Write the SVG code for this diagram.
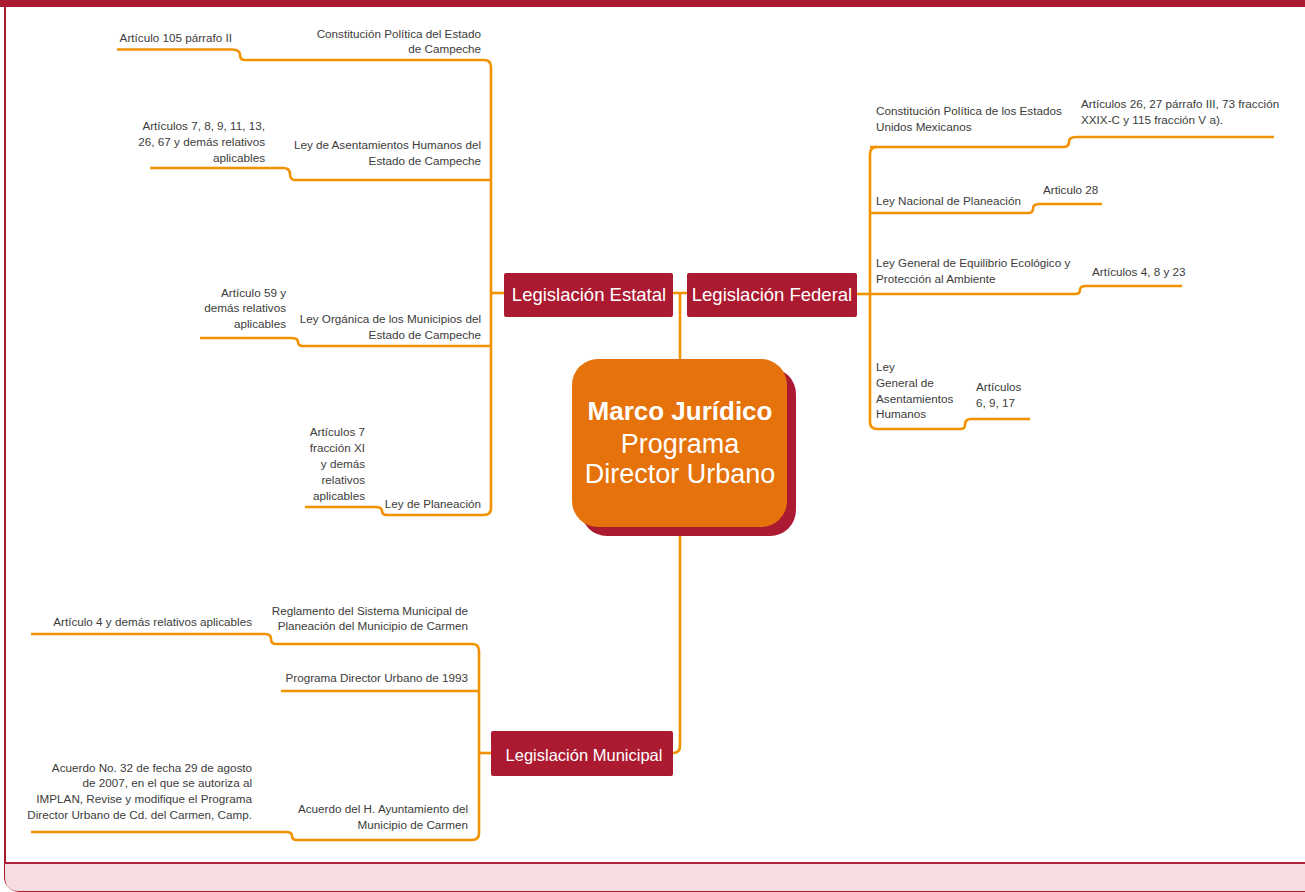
<svg xmlns="http://www.w3.org/2000/svg" width="1305" height="892" viewBox="0 0 1305 892">
<style>
.t{font-family:"Liberation Sans",Arial,sans-serif;font-size:11.7px;fill:#3c3c3b}
.e{text-anchor:end}
.ln{fill:none;stroke:#f39200;stroke-width:2.6;stroke-linejoin:round}
.box{fill:#ab1a31}
.bt{font-family:"Liberation Sans",Arial,sans-serif;fill:#ffffff;text-anchor:middle}
</style>
<g id="frame">
<rect x="5" y="-20" width="1340" height="911" rx="14" fill="#ffffff" stroke="#ab1a31" stroke-width="2"/>
<path d="M5,863 H1305 V891 H19 Q5,891 5,877 Z" fill="#f6dde1"/>
<line x1="5" y1="863" x2="1305" y2="863" stroke="#b0223a" stroke-width="2"/>
<rect x="0" y="0" width="1305" height="7" fill="#ab1a31"/>
</g>
<g id="connectors">
<path class="ln" d="M673,293 H687 M680,293 V359 M680,536 V746 Q680,753 673,753"/>
<path class="ln" d="M484,60 Q491,60 491,67 V508 Q491,515 484,515"/>
<path class="ln" d="M491,293 H504"/>
<path class="ln" d="M117,49.5 H232 Q240,49.5 240,55 Q240,60 245,60 H484"/>
<path class="ln" d="M150,168 H283 Q290,168 290,174 Q290,180 295,180 H491"/>
<path class="ln" d="M200,338 H291 Q298,338 298,342 Q298,346 303,346 H491"/>
<path class="ln" d="M305,507 H375 Q382,507 382,511 Q382,515 387,515 H484"/>
<path class="ln" d="M877,147 Q870,147 870,154 V422 Q870,429 877,429"/>
<path class="ln" d="M857,294 H870"/>
<path class="ln" d="M870,147 H1063 Q1069,147 1069,142 Q1069,137 1076,137 H1274"/>
<path class="ln" d="M870,213 H1028 Q1033,213 1033,209 Q1033,204 1039,204 H1102"/>
<path class="ln" d="M870,294 H1075 Q1080,294 1080,290 Q1080,286 1086,286 H1182"/>
<path class="ln" d="M877,429 H960 Q965,429 965,425 Q965,419 971,419 H1030"/>
<path class="ln" d="M472,644 Q479,644 479,651 V833 Q479,840 472,840"/>
<path class="ln" d="M479,753 H491"/>
<path class="ln" d="M31,634 H265 Q271,634 271,639 Q271,644 276,644 H472"/>
<path class="ln" d="M281,691 H479"/>
<path class="ln" d="M31,832 H286 Q292,832 292,836 Q292,840 297,840 H472"/>
</g>
<g id="center">
<rect x="581" y="368" width="215" height="168" rx="26" fill="#ab1a31"/>
<rect x="572" y="359" width="215" height="168" rx="26" fill="#e5720b"/>
<text class="bt" x="680" y="420" font-size="26" font-weight="bold">Marco Jurídico</text>
<text class="bt" x="680" y="453" font-size="27">Programa</text>
<text class="bt" x="680" y="483" font-size="27">Director Urbano</text>
</g>
<g id="estatal">
<rect class="box" x="504" y="273" width="169" height="44" rx="2"/>
<text class="bt" x="589" y="301" font-size="18.5">Legislación Estatal</text>
</g>
<g id="federal">
<rect class="box" x="687" y="273" width="170" height="44" rx="2"/>
<text class="bt" x="772" y="301" font-size="18.5">Legislación Federal</text>
</g>
<g id="municipal">
<rect class="box" x="491" y="731" width="182" height="45" rx="2"/>
<text class="bt" x="584" y="761" font-size="16.5">Legislación Municipal</text>
</g>
<g id="e1"><text class="t e" x="481" y="38">Constitución Política del Estado<tspan x="481" y="53">de Campeche</tspan></text></g>
<g id="e1a"><text class="t e" x="232" y="42">Artículo 105 párrafo II</text></g>
<g id="e2"><text class="t e" x="481" y="149">Ley de Asentamientos Humanos del<tspan x="481" y="165">Estado de Campeche</tspan></text></g>
<g id="e2a"><text class="t e" x="265" y="130">Artículos 7, 8, 9, 11, 13,<tspan x="265" y="146">26, 67 y demás relativos</tspan><tspan x="265" y="162">aplicables</tspan></text></g>
<g id="e3"><text class="t e" x="481" y="323">Ley Orgánica de los Municipios del<tspan x="481" y="339">Estado de Campeche</tspan></text></g>
<g id="e3a"><text class="t e" x="286" y="297">Artículo 59 y<tspan x="286" y="312">demás relativos</tspan><tspan x="286" y="328">aplicables</tspan></text></g>
<g id="e4"><text class="t e" x="481" y="508">Ley de Planeación</text></g>
<g id="e4a"><text class="t e" x="365" y="436">Artículos 7<tspan x="365" y="452">fracción XI</tspan><tspan x="365" y="468">y demás</tspan><tspan x="365" y="484">relativos</tspan><tspan x="365" y="500">aplicables</tspan></text></g>
<g id="f1"><text class="t" x="876" y="115">Constitución Política de los Estados<tspan x="876" y="131">Unidos Mexicanos</tspan></text></g>
<g id="f1a"><text class="t" x="1081" y="108">Artículos 26, 27 párrafo III, 73 fracción<tspan x="1081" y="124">XXIX-C y 115 fracción V a).</tspan></text></g>
<g id="f2"><text class="t" x="876" y="205">Ley Nacional de Planeación</text></g>
<g id="f2a"><text class="t" x="1043" y="194">Articulo 28</text></g>
<g id="f3"><text class="t" x="876" y="267">Ley General de Equilibrio Ecológico y<tspan x="876" y="283">Protección al Ambiente</tspan></text></g>
<g id="f3a"><text class="t" x="1092" y="276">Artículos 4, 8 y 23</text></g>
<g id="f4"><text class="t" x="876" y="371">Ley<tspan x="876" y="387">General de</tspan><tspan x="876" y="403">Asentamientos</tspan><tspan x="876" y="418">Humanos</tspan></text></g>
<g id="f4a"><text class="t" x="976" y="391">Artículos<tspan x="976" y="407">6, 9, 17</tspan></text></g>
<g id="m1"><text class="t e" x="468" y="615">Reglamento del Sistema Municipal de<tspan x="468" y="630">Planeación del Municipio de Carmen</tspan></text></g>
<g id="m1a"><text class="t e" x="252" y="626">Artículo 4 y demás relativos aplicables</text></g>
<g id="m2"><text class="t e" x="468" y="682">Programa Director Urbano de 1993</text></g>
<g id="m3"><text class="t e" x="468" y="813">Acuerdo del H. Ayuntamiento del<tspan x="468" y="829">Municipio de Carmen</tspan></text></g>
<g id="m3a"><text class="t e" x="252" y="772">Acuerdo No. 32 de fecha 29 de agosto<tspan x="252" y="787">de 2007, en el que se autoriza al</tspan><tspan x="252" y="803">IMPLAN, Revise y modifique el Programa</tspan><tspan x="252" y="819">Director Urbano de Cd. del Carmen, Camp.</tspan></text></g>
</svg>
